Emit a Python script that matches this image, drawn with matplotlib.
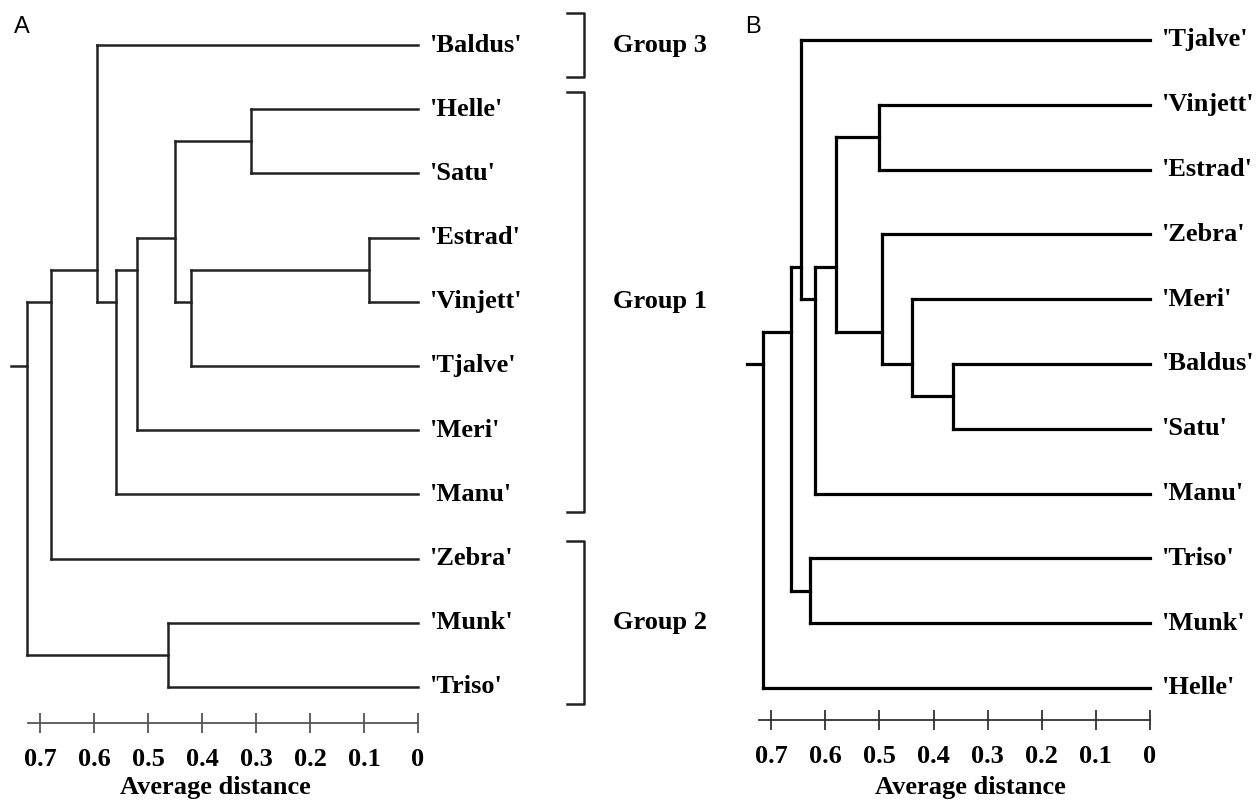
import matplotlib.pyplot as plt

plt.rcParams['font.family'] = ['Liberation Serif', 'DejaVu Serif']

# Panel A: leaves top to bottom
leaves_a = ["'Baldus'", "'Helle'", "'Satu'", "'Estrad'", "'Vinjett'", "'Tjalve'",
            "'Meri'", "'Manu'", "'Zebra'", "'Munk'", "'Triso'"]
# merges (child1, child2, distance); index < 11 = leaf, >= 11 = earlier merge
merges_a = [(3, 4, 0.09), (1, 2, 0.31), (11, 5, 0.42), (12, 13, 0.45),
            (14, 6, 0.52), (15, 7, 0.56), (0, 16, 0.595), (17, 8, 0.68),
            (9, 10, 0.463), (18, 19, 0.724)]

# Panel B
leaves_b = ["'Tjalve'", "'Vinjett'", "'Estrad'", "'Zebra'", "'Meri'", "'Baldus'",
            "'Satu'", "'Manu'", "'Triso'", "'Munk'", "'Helle'"]
merges_b = [(1, 2, 0.50), (5, 6, 0.365), (4, 12, 0.44), (3, 13, 0.495),
            (11, 14, 0.58), (15, 7, 0.62), (0, 16, 0.645), (8, 9, 0.628),
            (17, 18, 0.664), (19, 10, 0.715)]

groups = ['Group 3', 'Group 1', 'Group 2']
group_first = [0, 1, 8]
group_last = [0, 7, 10]

ticks = [0.7, 0.6, 0.5, 0.4, 0.3, 0.2, 0.1, 0]
tick_labels = ['0.7', '0.6', '0.5', '0.4', '0.3', '0.2', '0.1', '0']

FS = 19


def draw_tree(ax, leaves, merges, lw, color):
    n = len(leaves)
    pos = {i: float(i) for i in range(n)}
    hgt = {i: 0.0 for i in range(n)}
    members = {i: [i] for i in range(n)}
    for k, (a, b, d) in enumerate(merges):
        node = n + k
        ax.plot([hgt[a], d], [pos[a], pos[a]], color=color, lw=lw, solid_capstyle='projecting')
        ax.plot([hgt[b], d], [pos[b], pos[b]], color=color, lw=lw, solid_capstyle='projecting')
        ax.plot([d, d], [pos[a], pos[b]], color=color, lw=lw, solid_capstyle='projecting')
        members[node] = members[a] + members[b]
        pos[node] = sum(members[node]) / len(members[node])
        hgt[node] = d
    root = n + len(merges) - 1
    ax.plot([hgt[root], hgt[root] + 0.03], [pos[root], pos[root]], color=color, lw=lw)
    for i, name in enumerate(leaves):
        ax.text(-0.022, i, name, ha='left', va='center', fontsize=FS, fontweight='bold')


def style_axis(ax, spine_y, color, label_x):
    for s in ['left', 'right', 'top']:
        ax.spines[s].set_visible(False)
    ax.spines['bottom'].set_position(('data', spine_y))
    ax.spines['bottom'].set_color(color)
    ax.spines['bottom'].set_linewidth(1.3)
    ax.spines['bottom'].set_bounds(0.722, 0)
    ax.set_yticks([])
    ax.set_xticks(ticks)
    ax.set_xticklabels(tick_labels, fontsize=FS, fontweight='bold')
    ax.tick_params(axis='x', direction='inout', length=14, width=1.3, color=color, pad=11)
    ax.set_xlabel('Average distance', fontsize=FS, fontweight='bold')
    ax.xaxis.set_label_coords(label_x, 0.031)
    ax.xaxis.label.set_va('top')


fig = plt.figure(figsize=(12.57, 8.01), dpi=100)

# Panel A
ax_a = fig.add_axes([10 / 1257, 0, 730 / 1257, 1])
ax_a.set_xlim(0.7556, -0.5963)
ax_a.set_ylim(11.776, -0.701)
draw_tree(ax_a, leaves_a, merges_a, 1.8, '#222222')
style_axis(ax_a, 10.56, '#555555', 0.282)

for g, f, l in zip(groups, group_first, group_last):
    pad = 0.5 if f == l else 0.27
    y0, y1 = f - pad, l + pad
    ax_a.plot([-0.276, -0.307, -0.307, -0.276], [y0, y0, y1, y1], color='#222222', lw=1.8)
    ax_a.text(-0.448, (f + l) / 2, g, ha='center', va='center', fontsize=FS, fontweight='bold')

ax_a.text(0.005, 0.966, 'A', transform=ax_a.transAxes, fontsize=17,
          family=['Liberation Sans', 'DejaVu Sans'], ha='left', va='center')

# Panel B
ax_b = fig.add_axes([745 / 1257, 0, 512 / 1257, 1])
ax_b.set_xlim(0.7486, -0.1978)
ax_b.set_ylim(11.744, -0.617)
draw_tree(ax_b, leaves_b, merges_b, 2.3, '#000000')
style_axis(ax_b, 10.49, '#333333', 0.44)

ax_b.text(0.0, 0.966, 'B', transform=ax_b.transAxes, fontsize=17,
          family=['Liberation Sans', 'DejaVu Sans'], ha='left', va='center')

fig.savefig('out.png', dpi=100)
